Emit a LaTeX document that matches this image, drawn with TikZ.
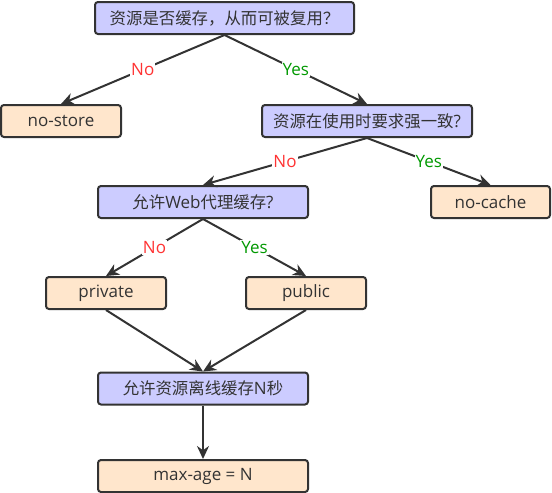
\documentclass[tikz,border=0pt]{standalone}
\usepackage{fontspec}
\setmainfont{Open Sans}
\newfontfamily\cjk{Noto Sans CJK SC}
\usetikzlibrary{arrows.meta}
\definecolor{qfill}{HTML}{CCCCFF}
\definecolor{afill}{HTML}{FFE6CC}
\definecolor{edge}{HTML}{333333}
\definecolor{nored}{HTML}{FF3333}
\definecolor{yesgreen}{HTML}{009900}
\tikzset{
  box/.style={draw=edge, line width=2pt, rounded corners=3pt, minimum height=32pt, inner sep=0pt, text=edge, font=\fontsize{17}{19}\selectfont},
  qbox/.style={box, fill=qfill},
  abox/.style={box, fill=afill},
  conn/.style={draw=edge, line width=2pt, -{Stealth[length=13pt,width=12pt]}},
  lbl/.style={fill=white, inner sep=1pt, font=\fontsize{17}{19}\selectfont},
  nolbl/.style={lbl, text=nored},
  yeslbl/.style={lbl, text=yesgreen},
}
\newcommand{\zh}[1]{{\cjk\fontsize{16.4}{19}\selectfont #1}}
\begin{document}
\begin{tikzpicture}[x=1pt,y=-1pt]
\useasboundingbox (0,0) rectangle (552,493);
\node[qbox, minimum width=259pt] (q1) at (224.5,18) {\zh{资源是否缓存，从而可被复用？}};
\node[abox, minimum width=120pt] (nostore) at (61,121) {no-store};
\node[qbox, minimum width=210pt] (q2) at (367,121) {\zh{资源在使用时要求强一致}?};
\node[qbox, minimum width=210pt] (q3) at (203,202) {\zh{允许}Web\zh{代理缓存}?};
\node[abox, minimum width=119pt] (nocache) at (490.5,202) {no-cache};
\node[abox, minimum width=120pt] (private) at (106,293) {private};
\node[abox, minimum width=120pt] (public) at (306,293) {public};
\node[qbox, minimum width=210pt] (q4) at (203,388.5) {\zh{允许资源离线缓存}N\zh{秒}};
\node[abox, minimum width=210pt] (maxage) at (203,476) {max-age = N};
\draw[conn] (q1.south) -- node[nolbl] {No} (nostore.north);
\draw[conn] (q1.south) -- node[yeslbl] {Yes} (q2.north);
\draw[conn] (q2.south) -- node[nolbl] {No} (q3.north);
\draw[conn] (q2.south) -- node[yeslbl] {Yes} (nocache.north);
\draw[conn] (q3.south) -- node[nolbl] {No} (private.north);
\draw[conn] (q3.south) -- node[yeslbl] {Yes} (public.north);
\draw[conn] (private.south) -- (q4.north);
\draw[conn] (public.south) -- (q4.north);
\draw[conn] (q4.south) -- (maxage.north);
\end{tikzpicture}
\end{document}
